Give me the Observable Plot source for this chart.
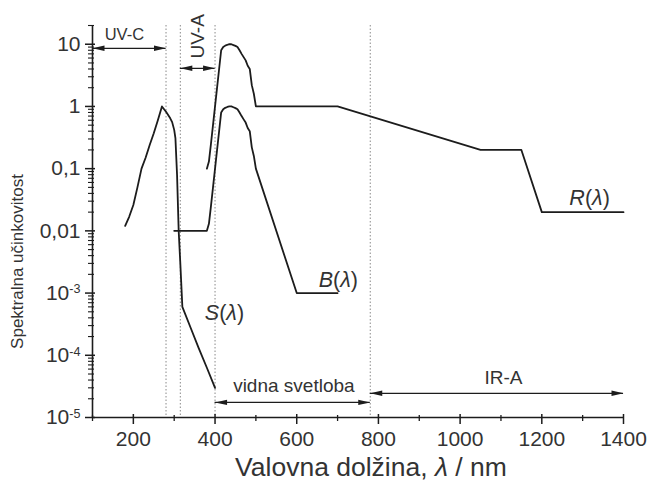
<!DOCTYPE html>
<html><head><meta charset="utf-8">
<script src="https://cdn.jsdelivr.net/npm/d3@7"></script>
<script src="https://cdn.jsdelivr.net/npm/@observablehq/plot@0.6"></script>
<style>body{margin:0;background:#fff;} svg{display:block;overflow:visible}</style>
</head><body><div id="chart"></div>
<script>
// S(λ) – UV hazard
const sWave = [180,190,200,210,220,230,240,250,260,270,280,290,295,300,303,307,311,315,320,340,360,380,400];
const sVal  = [0.012,0.017,0.026,0.05,0.1,0.15,0.24,0.37,0.6,1.0,0.82,0.65,0.56,0.42,0.31,0.08,0.01,0.003,0.0006,0.00028,0.00013,0.000063,0.00003];
// B(λ) – blue light hazard
const bWave = [300,380,385,390,395,400,405,410,415,420,425,430,435,440,445,450,455,460,465,470,475,480,485,490,495,500,600,700];
const bVal  = [0.01,0.01,0.013,0.025,0.05,0.1,0.2,0.4,0.8,0.9,0.95,0.98,1,1,0.97,0.94,0.9,0.8,0.7,0.62,0.55,0.45,0.4,0.22,0.16,0.1,0.001,0.001];
// R(λ) – retinal thermal hazard
const rWave = [380,385,390,395,400,405,410,415,420,425,430,435,440,445,450,455,460,465,470,475,480,485,490,495,500,700,1050,1150,1200,1400];
const rVal  = [0.1,0.13,0.25,0.5,1,2,4,8,9,9.5,9.8,10,10,9.7,9.4,9,8,7,6.2,5.5,4.5,4,2.2,1.6,1,1,0.2,0.2,0.02,0.02];

const xMajor = [200,400,600,800,1000,1200,1400];
const xMinor = [100,300,500,700,900,1100,1300];
const yMajor = [1e-5,1e-4,1e-3,0.01,0.1,1,10];
const yLabels = ["10^-5","10^-4","10^-3","0,01","0,1","1","10"];
const yMinor = [];
for (let e = -5; e <= 1; e++) for (let m = 2; m <= 9; m++) { const v = m * Math.pow(10, e); if (v <= 20) yMinor.push(v); }

const regionLines = [280, 315, 400, 780];
const rangeNames = ["UV-C", "UV-A", "vidna svetloba", "IR-A"];
const rangeFrom  = [100, 315, 400, 780];
const rangeTo    = [280, 400, 780, 1400];
const rangeLevel = [8.6, 4.1, 1.75e-5, 2.45e-5];
const rangeLabelX = [178, 357, 593, 1106];
const rangeLabelY = [14, 13.4, 3.27e-5, 4.4e-5];
const rangeLabelRotate = [0, -90, 0, 0];

const curveNames = ["S(λ)", "B(λ)", "R(λ)"];
const curveLabelX = [423, 702, 1317];
const curveLabelY = [4.7e-4, 1.6e-3, 0.0333];

const xTitle = "Valovna dolžina, λ / nm";
const yTitle = "Spektralna učinkovitost";

const curves = [
  ...sWave.map((x, i) => ({curve: "S", x, y: sVal[i]})),
  ...bWave.map((x, i) => ({curve: "B", x, y: bVal[i]})),
  ...rWave.map((x, i) => ({curve: "R", x, y: rVal[i]}))
];
const arrows = rangeNames.map((n, i) => ({name: n, from: rangeFrom[i], to: rangeTo[i], level: rangeLevel[i]}));
const rangeLabels = rangeNames.map((n, i) => ({text: n, x: rangeLabelX[i], y: rangeLabelY[i], rotate: rangeLabelRotate[i]}));
const curveLabels = curveNames.map((n, i) => ({text: n, x: curveLabelX[i], y: curveLabelY[i]}));
const labelMap = new Map(yMajor.map((v, i) => [v, yLabels[i]]));

const headRight = {draw(ctx) { ctx.moveTo(0, 0); ctx.lineTo(-12, -2.7); ctx.lineTo(-12, 2.7); ctx.closePath(); }};
const headLeft  = {draw(ctx) { ctx.moveTo(0, 0); ctx.lineTo(12, -2.7); ctx.lineTo(12, 2.7); ctx.closePath(); }};

const ink = "#1c1c1c";
const textInk = "#333";
const W = 651, H = 488, mL = 92, mR = 28, mT = 25, mB = 71;
const frameW = W - mL - mR, frameH = H - mT - mB;

const chart = Plot.plot({
  width: W, height: H,
  marginLeft: mL, marginRight: mR, marginTop: mT, marginBottom: mB,
  style: {fontFamily: "'Liberation Sans', Arial, sans-serif", fontSize: "21px", color: textInk, background: "#fff", overflow: "visible"},
  x: {type: "linear", domain: [100, 1400]},
  y: {type: "log", domain: [1e-5, 20]},
  marks: [
    Plot.ruleX(regionLines, {stroke: "#8a8a8a", strokeWidth: 1, strokeDasharray: "1.5,2"}),
    // tick marks, crossing the axis line
    Plot.tickX(xMinor, {x: d => d, stroke: ink, strokeWidth: 1.3, insetTop: frameH - 2, insetBottom: -4, clip: false}),
    Plot.tickX(xMajor, {x: d => d, stroke: ink, strokeWidth: 1.5, insetTop: frameH - 3, insetBottom: -7, clip: false}),
    Plot.tickY(yMinor, {y: d => d, stroke: ink, strokeWidth: 1.1, insetRight: frameW - 2, insetLeft: -4, clip: false}),
    Plot.tickY(yMajor, {y: d => d, stroke: ink, strokeWidth: 1.5, insetRight: frameW - 3, insetLeft: -7, clip: false}),
    // tick labels
    Plot.axisX({ticks: xMajor, tickSize: 0, tickPadding: 14, fontSize: 21, tickFormat: d => String(d), label: null}),
    Plot.axisY({ticks: yMajor, tickSize: 0, tickPadding: 12, fontSize: 21, tickFormat: d => labelMap.get(d), label: null}),
    Plot.ruleX([100], {stroke: ink, strokeWidth: 1.6}),
    Plot.ruleY([1e-5], {stroke: ink, strokeWidth: 1.6}),
    Plot.line(curves, {x: "x", y: "y", z: "curve", stroke: ink, strokeWidth: 1.8, strokeLinejoin: "round"}),
    Plot.ruleY(arrows, {y: "level", x1: "from", x2: "to", stroke: ink, strokeWidth: 1.2}),
    Plot.dot(arrows, {x: "to", y: "level", symbol: headRight, fill: ink, stroke: "none", r: 3}),
    Plot.dot(arrows, {x: "from", y: "level", symbol: headLeft, fill: ink, stroke: "none", r: 3}),
    Plot.text(rangeLabels, {filter: d => d.text === "UV-C", x: "x", y: "y", text: "text", fontSize: 16.5, fill: textInk}),
    Plot.text(rangeLabels, {filter: d => d.text !== "UV-C", x: "x", y: "y", text: "text", rotate: "rotate", fontSize: 19, fill: textInk}),
    Plot.text(curveLabels, {x: "x", y: "y", text: "text", fontSize: 21.5, fill: textInk}),
    Plot.text([xTitle], {frameAnchor: "bottom", textAnchor: "middle", lineAnchor: "middle", dx: 13, dy: 50, text: d => d, fontSize: 26.5, fill: textInk}),
    Plot.text([yTitle], {frameAnchor: "left", textAnchor: "middle", lineAnchor: "middle", dx: -75, dy: 40, rotate: -90, text: d => d, fontSize: 17, fill: textInk})
  ]
});

// typographic post-processing: superscript exponents, italic symbols
d3.select(chart).selectAll("text").each(function() {
  const t = this.textContent;
  const sel = d3.select(this);
  if (/^10\^/.test(t)) {
    const [base, exp] = t.split("^");
    sel.text(null);
    sel.append("tspan").text(base);
    sel.append("tspan").attr("dy", "-0.5em").attr("font-size", "0.6em").text(exp);
  } else if (curveNames.includes(t)) {
    sel.text(null);
    sel.append("tspan").attr("font-style", "italic").text(t[0]);
    sel.append("tspan").text("(");
    sel.append("tspan").attr("font-style", "italic").text("λ");
    sel.append("tspan").text(")");
  } else if (t === xTitle) {
    const parts = t.split("λ");
    sel.text(null);
    sel.append("tspan").text(parts[0]);
    sel.append("tspan").attr("font-style", "italic").text("λ");
    sel.append("tspan").text(parts[1]);
  }
});

document.getElementById("chart").appendChild(chart);
</script>
</body></html>
